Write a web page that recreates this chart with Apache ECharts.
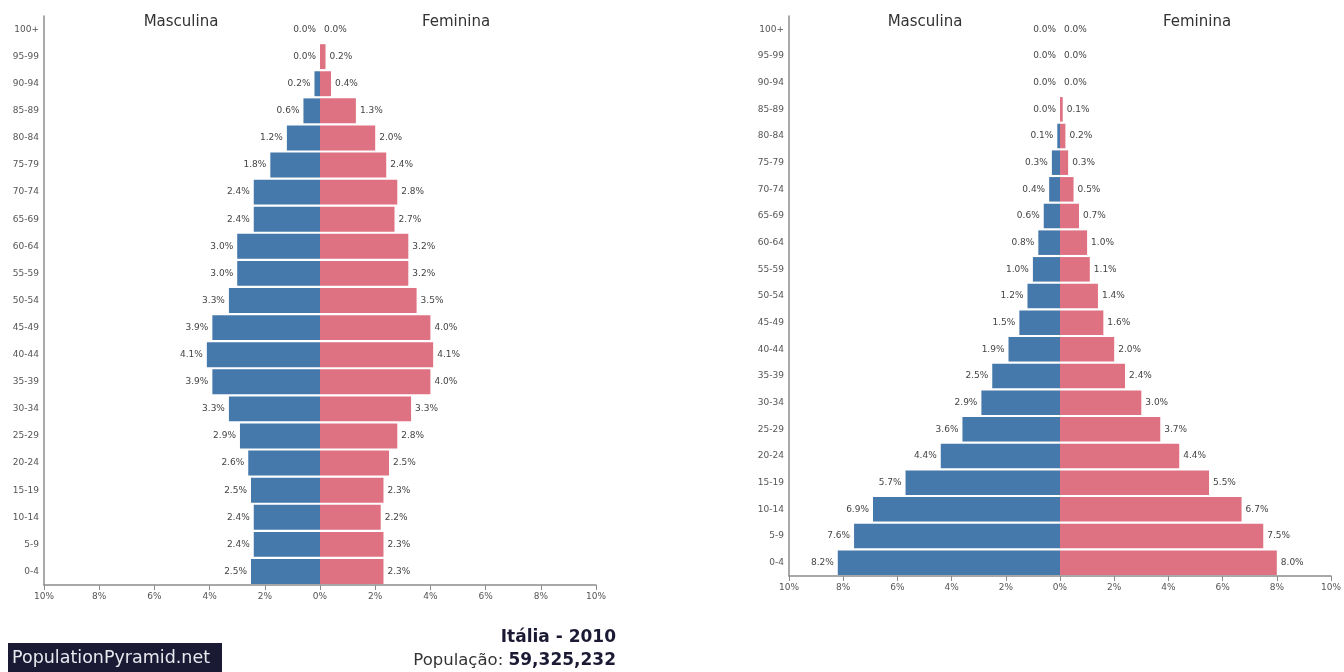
<!DOCTYPE html>
<html>
<head>
    <meta charset="utf-8">
    <title>Pirâmide populacional</title>
    <script src="https://cdn.jsdelivr.net/npm/echarts@6/dist/echarts.min.js"></script>
    <style>
        html, body { margin: 0; padding: 0; background: #fff; }
    </style>
</head>
<body>
    <div id="main" style="width: 1344px; height: 672px;"></div>

    <script type="text/javascript">
        // faixas etárias, de cima para baixo
        var ages = ['100+', '95-99', '90-94', '85-89', '80-84', '75-79', '70-74', '65-69',
            '60-64', '55-59', '50-54', '45-49', '40-44', '35-39', '30-34', '25-29',
            '20-24', '15-19', '10-14', '5-9', '0-4'];

        // Itália - 2010 (% da população)
        var italyMale = [0.0, 0.0, 0.2, 0.6, 1.2, 1.8, 2.4, 2.4, 3.0, 3.0, 3.3, 3.9,
            4.1, 3.9, 3.3, 2.9, 2.6, 2.5, 2.4, 2.4, 2.5];
        var italyFemale = [0.0, 0.2, 0.4, 1.3, 2.0, 2.4, 2.8, 2.7, 3.2, 3.2, 3.5, 4.0,
            4.1, 4.0, 3.3, 2.8, 2.5, 2.3, 2.2, 2.3, 2.3];

        // segunda pirâmide (base larga)
        var youngMale = [0.0, 0.0, 0.0, 0.0, 0.1, 0.3, 0.4, 0.6, 0.8, 1.0, 1.2, 1.5,
            1.9, 2.5, 2.9, 3.6, 4.4, 5.7, 6.9, 7.6, 8.2];
        var youngFemale = [0.0, 0.0, 0.0, 0.1, 0.2, 0.3, 0.5, 0.7, 1.0, 1.1, 1.4, 1.6,
            2.0, 2.4, 3.0, 3.7, 4.4, 5.5, 6.7, 7.5, 8.0];

        var xTicks = [-10, -8, -6, -4, -2, 0, 2, 4, 6, 8, 10];

        var BLUE = '#4679ab';
        var PINK = '#df7282';
        var AXIS = '#8c8c8c';

        var myChart = echarts.init(document.getElementById('main'));

        function pct(v) {
            return Math.abs(v).toFixed(1) + '%';
        }

        function xAxisFor(i) {
            return {
                type: 'value',
                gridIndex: i,
                min: xTicks[0],
                max: xTicks[xTicks.length - 1],
                interval: 2,
                splitLine: { show: false },
                axisLine: { show: true, lineStyle: { color: AXIS, width: 1.5 } },
                axisTick: { show: true, length: 5, lineStyle: { color: AXIS } },
                axisLabel: {
                    color: '#555',
                    fontSize: 9,
                    fontFamily: 'DejaVu Sans',
                    margin: 7,
                    formatter: function (v) { return Math.abs(v) + '%'; }
                }
            };
        }

        function yAxisFor(i) {
            return {
                type: 'category',
                gridIndex: i,
                data: ages,
                inverse: true,
                axisLine: { show: true, onZero: false, lineStyle: { color: AXIS, width: 1.5 } },
                axisTick: { show: false },
                axisLabel: { color: '#555', fontSize: 9, fontFamily: 'DejaVu Sans', margin: 5 }
            };
        }

        function barPair(i, male, female) {
            var common = {
                type: 'bar',
                xAxisIndex: i,
                yAxisIndex: i,
                stack: 'p' + i,
                barCategoryGap: '8%',
                animation: false
            };
            return [
                Object.assign({}, common, {
                    name: 'Masculina',
                    data: male.map(function (v) { return -v; }),
                    itemStyle: { color: BLUE },
                    label: {
                        show: true, position: 'left', distance: 4,
                        color: '#444', fontSize: 9, fontFamily: 'DejaVu Sans',
                        formatter: function (p) { return pct(p.value); }
                    }
                }),
                Object.assign({}, common, {
                    name: 'Feminina',
                    data: female.slice(),
                    itemStyle: { color: PINK },
                    label: {
                        show: true, position: 'right', distance: 4,
                        color: '#444', fontSize: 9, fontFamily: 'DejaVu Sans',
                        formatter: function (p) { return pct(p.value); }
                    }
                })
            ];
        }

        function header(x, txt) {
            return {
                type: 'text', x: x, y: 22,
                style: {
                    text: txt, fill: '#333', font: '15px "DejaVu Sans"',
                    textAlign: 'center', textVerticalAlign: 'middle'
                }
            };
        }

        option = {
            backgroundColor: '#fff',
            animation: false,
            grid: [
                { left: 44, right: 748, top: 16, bottom: 87 },
                { left: 789, right: 12, top: 16, bottom: 96 }
            ],
            xAxis: [xAxisFor(0), xAxisFor(1)],
            yAxis: [yAxisFor(0), yAxisFor(1)],
            series: barPair(0, italyMale, italyFemale).concat(barPair(1, youngMale, youngFemale)),
            graphic: [
                header(181, 'Masculina'),
                header(456, 'Feminina'),
                header(925, 'Masculina'),
                header(1197, 'Feminina'),
                {
                    type: 'rect',
                    shape: { x: 8, y: 643, width: 214, height: 29 },
                    style: { fill: '#1b1a35' }
                },
                {
                    type: 'text', x: 12, y: 658,
                    style: {
                        text: 'PopulationPyramid.net', fill: '#e8e8ee',
                        font: '17.5px "DejaVu Sans"',
                        textVerticalAlign: 'middle'
                    }
                },
                {
                    type: 'text', x: 616, y: 638,
                    style: {
                        text: 'Itália - 2010', fill: '#1b1a35',
                        font: 'bold 17px "DejaVu Sans"',
                        textAlign: 'right', textVerticalAlign: 'middle'
                    }
                },
                {
                    type: 'text', x: 616, y: 661,
                    style: {
                        text: '{n|População: }{b|59,325,232}',
                        textAlign: 'right', textVerticalAlign: 'middle',
                        rich: {
                            n: { fill: '#333', fontSize: 16.5, fontFamily: 'DejaVu Sans' },
                            b: { fill: '#1b1a35', fontSize: 17, fontWeight: 'bold', fontFamily: 'DejaVu Sans' }
                        }
                    }
                }
            ]
        };

        myChart.setOption(option);
    </script>
</body>
</html>
